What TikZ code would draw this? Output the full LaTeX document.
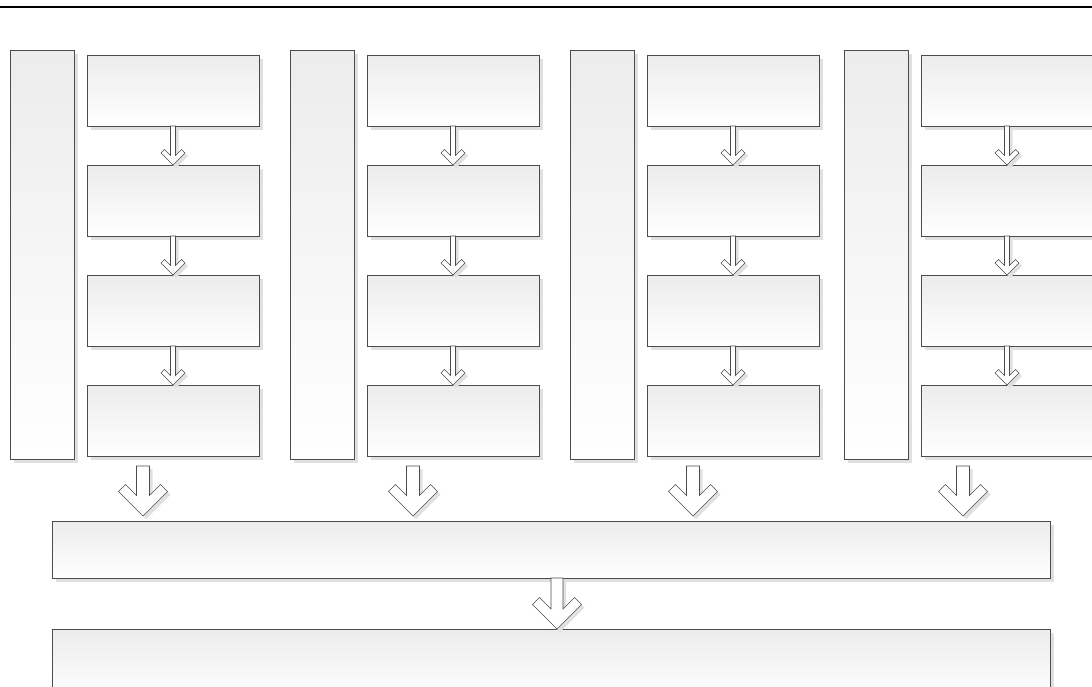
\documentclass[tikz,border=0pt]{standalone}
\usepackage{tikz}
\usetikzlibrary{calc,shadows}

% hollow down arrow: from, to, shaft half width, head half width, wing thickness
\newcommand{\blockdown}[5]{%
  \draw[arrowbox] let \p1=(#1), \p2=(#2) in
    (\x1-#3pt,\y1) -- (\x1-#3pt,\y2+2*#5pt+#3pt) -- (\x1-#4pt+#5pt,\y2+#4pt+#5pt)
    -- (\x1-#4pt,\y2+#4pt) -- (\x1,\y2) -- (\x1+#4pt,\y2+#4pt)
    -- (\x1+#4pt-#5pt,\y2+#4pt+#5pt) -- (\x1+#3pt,\y2+2*#5pt+#3pt) -- (\x1+#3pt,\y1) -- cycle;}

\begin{document}
\begin{tikzpicture}[x=1pt,y=-1pt,
  box/.style={draw=black!70,line width=0.8pt,top color=gray!15,bottom color=white,
    inner sep=0pt,outer sep=0pt,
    drop shadow={shadow xshift=4pt,shadow yshift=-4pt,fill=black!12,opacity=1}},
  arrowbox/.style={draw=black!70,line width=0.6pt,fill=white,line join=miter,
    drop shadow={shadow xshift=3pt,shadow yshift=-3pt,fill=black!12,opacity=1}}]

\useasboundingbox (0,0) rectangle (1092,686);
\clip (0,0) rectangle (1092,686);

\draw[line width=2pt] (0,7) -- (1092,7); % top rule

% four columns
\foreach \c/\dx in {1/0,2/280,3/560,4/834}{
  \node[box,minimum width=64pt,minimum height=409pt] (lane\c) at (42+\dx,254.5) {};
  \foreach \r/\y in {1/90.5,2/200.5,3/310.5,4/420.5}
    \node[box,minimum width=172pt,minimum height=71pt] (step\c-\r) at (173+\dx,\y) {};
  \foreach \r/\s in {1/2,2/3,3/4}
    \blockdown{step\c-\r.south}{step\c-\s.north}{2.5}{12}{3.5};
}

% collecting boxes
\node[box,minimum width=998pt,minimum height=57pt] (merge) at (551,549.5) {};
\node[box,minimum width=998pt,minimum height=70pt] (result) at (551,664) {};

\foreach \c/\x in {1/143,2/413,3/693,4/963}{
  \coordinate (out\c) at (\x,466);
  \coordinate (in\c) at (\x,516);
  \blockdown{out\c}{in\c}{6.5}{24.5}{7};
}

\coordinate (down1) at ($(merge.south)+(6,0)$);
\coordinate (down2) at ($(result.north)+(6,0)$);
\blockdown{down1}{down2}{6}{24.5}{7};

\end{tikzpicture}
\end{document}
